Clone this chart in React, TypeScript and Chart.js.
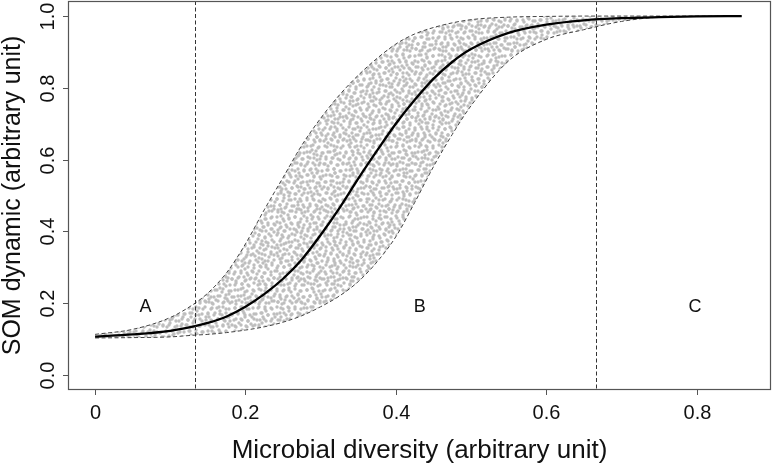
import React, { useEffect, useRef } from "react";
import { Chart, registerables } from "chart.js";

Chart.register(...registerables);

// ---- data ----
const curveX = [0, 0.05, 0.1, 0.133, 0.15, 0.175, 0.2, 0.225, 0.25, 0.275, 0.3, 0.325, 0.35, 0.375, 0.4, 0.425, 0.45, 0.475, 0.5, 0.55, 0.6, 0.65, 0.7, 0.75, 0.8, 0.86];
const meanY = [0.107, 0.113, 0.123, 0.136, 0.145, 0.163, 0.19, 0.225, 0.268, 0.322, 0.39, 0.465, 0.547, 0.625, 0.7, 0.766, 0.825, 0.872, 0.908, 0.953, 0.976, 0.988, 0.994, 0.997, 0.999, 1.0];
const upperY = [0.113, 0.127, 0.16, 0.2, 0.228, 0.285, 0.365, 0.46, 0.55, 0.64, 0.715, 0.78, 0.835, 0.882, 0.922, 0.95, 0.968, 0.981, 0.99, 0.997, 0.999, 1, 1, 1, 1, 1];
const lowerY = [0.103, 0.104, 0.106, 0.111, 0.113, 0.118, 0.125, 0.134, 0.147, 0.165, 0.19, 0.22, 0.26, 0.315, 0.385, 0.48, 0.58, 0.67, 0.75, 0.875, 0.935, 0.962, 0.985, 0.997, 0.999, 1];
const dividers = [0.1333, 0.6667];
const regionNames = ["A", "B", "C"];
const regionX = [0.067, 0.432, 0.798];
const regionY = [0.19, 0.19, 0.19];
const xTicks = [0, 0.2, 0.4, 0.6, 0.8];
const xTickLabels = ["0", "0.2", "0.4", "0.6", "0.8"];
const yTicks = [0, 0.2, 0.4, 0.6, 0.8, 1.0];
const yTickLabels = ["0.0", "0.2", "0.4", "0.6", "0.8", "1.0"];
const xTitle = "Microbial diversity (arbitrary unit)";
const yTitle = "SOM dynamic (arbitrary unit)";

// ---- style: stipple texture that shades the envelope (two overlaid dot tiles) ----
const FONT = '"Liberation Sans", Arial, Helvetica, sans-serif';
const STIPPLE_RADIUS = 1.7;
const STIPPLE_LAYERS = [
  {
    period: 18,
    spots: [[1, 2], [7, 1], [13, 3], [4, 8], [10, 7], [16, 9], [2, 13], [8, 14], [14, 15], [11, 11]],
  },
  {
    period: 23,
    spots: [[2, 3], [9, 1], [16, 4], [21, 2], [5, 9], [12, 8], [19, 10], [1, 15], [8, 14], [15, 16], [22, 18], [4, 21], [11, 20], [18, 22], [13, 12], [6, 5]],
  },
];

function makeStipple(): CanvasPattern | string {
  const T = STIPPLE_LAYERS.reduce((m, l) => m * l.period, 1);
  const tile = document.createElement("canvas");
  tile.width = T;
  tile.height = T;
  const t = tile.getContext("2d");
  if (!t) return "#cfcfcf";
  t.fillStyle = "#bebebe";
  for (const layer of STIPPLE_LAYERS) {
    const P = layer.period;
    for (let by = -P; by < T + P; by += P) {
      for (let bx = -P; bx < T + P; bx += P) {
        for (const [sx, sy] of layer.spots) {
          t.beginPath();
          t.arc(bx + sx, by + sy, STIPPLE_RADIUS, 0, Math.PI * 2);
          t.fill();
        }
      }
    }
  }
  const p = t.createPattern(tile, "repeat");
  return p || "#cfcfcf";
}

const decorPlugin = {
  id: "decor",
  afterDatasetsDraw(chart: any) {
    const { ctx, chartArea: a, scales } = chart;
    const x = scales.x;
    const y = scales.y;
    ctx.save();

    // vertical dividers
    ctx.strokeStyle = "#333";
    ctx.lineWidth = 1;
    ctx.setLineDash([4, 2.5]);
    for (const d of dividers) {
      const px = Math.round(x.getPixelForValue(d)) + 0.5;
      ctx.beginPath();
      ctx.moveTo(px, a.top);
      ctx.lineTo(px, a.bottom);
      ctx.stroke();
    }
    ctx.setLineDash([]);

    // region labels
    ctx.fillStyle = "#111";
    ctx.font = `18px ${FONT}`;
    ctx.textAlign = "center";
    ctx.textBaseline = "middle";
    regionNames.forEach((n, i) => {
      ctx.fillText(n, x.getPixelForValue(regionX[i]), y.getPixelForValue(regionY[i]));
    });

    // frame
    ctx.strokeStyle = "#555";
    ctx.lineWidth = 1.2;
    ctx.strokeRect(a.left + 0.5, a.top + 0.5, a.right - a.left - 1, a.bottom - a.top - 1);

    // x ticks
    ctx.lineWidth = 1;
    ctx.fillStyle = "#111";
    ctx.font = `20px ${FONT}`;
    ctx.textAlign = "center";
    ctx.textBaseline = "alphabetic";
    xTicks.forEach((v, i) => {
      const px = Math.round(x.getPixelForValue(v)) + 0.5;
      ctx.beginPath();
      ctx.moveTo(px, a.bottom);
      ctx.lineTo(px, a.bottom + 5);
      ctx.stroke();
      ctx.fillText(xTickLabels[i], px, a.bottom + 29);
    });

    // y ticks (rotated labels, R style)
    yTicks.forEach((v, i) => {
      const py = Math.round(y.getPixelForValue(v)) + 0.5;
      ctx.beginPath();
      ctx.moveTo(a.left - 5, py);
      ctx.lineTo(a.left, py);
      ctx.stroke();
      ctx.save();
      ctx.translate(a.left - 14, py);
      ctx.rotate(-Math.PI / 2);
      ctx.fillText(yTickLabels[i], 0, 0);
      ctx.restore();
    });

    // axis titles
    ctx.fillStyle = "#111";
    ctx.font = `26px ${FONT}`;
    ctx.fillText(xTitle, (a.left + a.right) / 2, a.bottom + 68);
    ctx.save();
    ctx.font = `25px ${FONT}`;
    ctx.translate(20, (a.top + a.bottom) / 2);
    ctx.rotate(-Math.PI / 2);
    ctx.fillText(yTitle, 0, 0);
    ctx.restore();

    ctx.restore();
  },
};

export default function App() {
  const ref = useRef<HTMLCanvasElement | null>(null);

  useEffect(() => {
    document.body.style.margin = "0";
    const canvas = ref.current;
    if (!canvas) return;
    const stipple = makeStipple();
    const pts = (ys: number[]) => curveX.map((xv, i) => ({ x: xv, y: ys[i] }));

    const chart = new Chart(canvas, {
      type: "scatter",
      data: {
        datasets: [
          {
            label: "mean",
            data: pts(meanY),
            showLine: true,
            borderColor: "#000",
            borderWidth: 2.3,
            pointRadius: 0,
            cubicInterpolationMode: "monotone",
            fill: false,
          },
          {
            label: "upper",
            data: pts(upperY),
            showLine: true,
            borderColor: "#444",
            borderWidth: 1,
            borderDash: [4, 2.5],
            pointRadius: 0,
            cubicInterpolationMode: "monotone",
            fill: "+1",
            backgroundColor: stipple as any,
          },
          {
            label: "lower",
            data: pts(lowerY),
            showLine: true,
            borderColor: "#444",
            borderWidth: 1,
            borderDash: [4, 2.5],
            pointRadius: 0,
            cubicInterpolationMode: "monotone",
            fill: false,
          },
        ],
      },
      options: {
        animation: false,
        responsive: true,
        maintainAspectRatio: false,
        devicePixelRatio: 1,
        layout: { padding: { top: 1, right: 3, left: 0, bottom: 0 } },
        plugins: {
          legend: { display: false },
          tooltip: { enabled: false },
          filler: { drawTime: "beforeDatasetsDraw" } as any,
        },
        scales: {
          x: {
            type: "linear",
            min: -0.036,
            max: 0.899,
            ticks: { display: false },
            grid: { display: false },
            border: { display: false },
            afterFit: (s: any) => {
              s.height = 74;
            },
          },
          y: {
            type: "linear",
            min: -0.042,
            max: 1.042,
            ticks: { display: false },
            grid: { display: false },
            border: { display: false },
            afterFit: (s: any) => {
              s.width = 68;
            },
          },
        },
      },
      plugins: [decorPlugin],
    });
    return () => chart.destroy();
  }, []);

  return (
    <div style={{ position: "absolute", left: 0, top: 0, width: 774, height: 464, background: "#fff" }}>
      <canvas ref={ref} />
    </div>
  );
}
